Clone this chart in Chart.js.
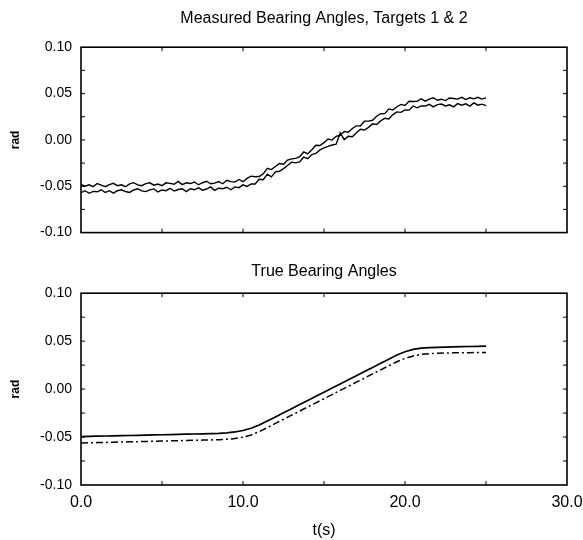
<!DOCTYPE html>
<html>
<head>
<meta charset="utf-8">
<script src="https://cdn.jsdelivr.net/npm/chart.js@4.4.0/dist/chart.umd.min.js"></script>
<style>
  body { margin: 0; background: #fff; }
  canvas { position: absolute; left: 0; }
  #measuredChart { top: 0; }
  #trueChart { top: 250px; }
</style>
</head>
<body>
<canvas id="measuredChart" width="583" height="250"></canvas>
<canvas id="trueChart" width="583" height="290"></canvas>
<script>
// sample times (s)
const tMeas = [0,0.25,0.5,0.75,1,1.25,1.5,1.75,2,2.25,2.5,2.75,3,3.25,3.5,3.75,4,4.25,4.5,4.75,
  5,5.25,5.5,5.75,6,6.25,6.5,6.75,7,7.25,7.5,7.75,8,8.25,8.5,8.75,9,9.25,9.5,9.75,
  10,10.25,10.5,10.75,11,11.25,11.5,11.75,12,12.25,12.5,12.75,13,13.25,13.5,13.75,14,14.25,14.5,14.75,
  15,15.25,15.5,15.75,16,16.25,16.5,16.75,17,17.25,17.5,17.75,18,18.25,18.5,18.75,19,19.25,19.5,19.75,
  20,20.25,20.5,20.75,21,21.25,21.5,21.75,22,22.25,22.5,22.75,23,23.25,23.5,23.75,24,24.25,24.5,24.75,25];
const tTrue = [0,0.5,1,1.5,2,2.5,3,3.5,4,4.5,5,5.5,6,6.5,7,7.5,8,8.5,9,9.5,
  10,10.5,11,11.5,12,12.5,13,13.5,14,14.5,15,15.5,16,16.5,17,17.5,18,18.5,19,19.5,
  20,20.5,21,21.5,22,22.5,23,23.5,24,24.5,25];

// measured bearing (rad)
const measured1 = [-0.0480,-0.0499,-0.0485,-0.0504,-0.0471,-0.0487,-0.0504,-0.0482,-0.0469,-0.0494,
  -0.0484,-0.0505,-0.0474,-0.0461,-0.0486,-0.0494,-0.0471,-0.0463,-0.0488,-0.0476,
  -0.0494,-0.0463,-0.0469,-0.0479,-0.0448,-0.0482,-0.0463,-0.0471,-0.0454,-0.0484,
  -0.0462,-0.0446,-0.0473,-0.0466,-0.0450,-0.0473,-0.0435,-0.0450,-0.0454,-0.0427,
  -0.0451,-0.0415,-0.0391,-0.0397,-0.0395,-0.0366,-0.0307,-0.0320,-0.0287,-0.0254,
  -0.0263,-0.0218,-0.0205,-0.0200,-0.0182,-0.0130,-0.0150,-0.0107,-0.0057,-0.0060,
  -0.0030,0.0009,-0.0002,0.0039,0.0050,0.0091,0.0082,0.0123,0.0151,0.0152,
  0.0202,0.0202,0.0212,0.0255,0.0282,0.0283,0.0334,0.0323,0.0358,0.0383,
  0.0372,0.0417,0.0415,0.0416,0.0444,0.0418,0.0439,0.0455,0.0428,0.0439,
  0.0424,0.0452,0.0447,0.0440,0.0459,0.0435,0.0454,0.0443,0.0460,0.0440,
  0.0454];
const measured2 = [-0.0570,-0.0548,-0.0576,-0.0555,-0.0560,-0.0538,-0.0567,-0.0548,-0.0574,-0.0548,
  -0.0538,-0.0557,-0.0567,-0.0540,-0.0527,-0.0550,-0.0558,-0.0539,-0.0529,-0.0562,
  -0.0540,-0.0548,-0.0522,-0.0552,-0.0535,-0.0527,-0.0558,-0.0527,-0.0538,-0.0517,
  -0.0542,-0.0530,-0.0507,-0.0544,-0.0521,-0.0527,-0.0511,-0.0538,-0.0507,-0.0515,
  -0.0485,-0.0502,-0.0474,-0.0476,-0.0424,-0.0429,-0.0370,-0.0399,-0.0345,-0.0338,
  -0.0310,-0.0276,-0.0240,-0.0248,-0.0238,-0.0186,-0.0202,-0.0158,-0.0146,-0.0108,
  -0.0085,-0.0070,-0.0055,-0.0047,0.0075,0.0003,0.0039,0.0034,0.0078,0.0115,
  0.0107,0.0135,0.0173,0.0166,0.0205,0.0234,0.0225,0.0273,0.0302,0.0297,
  0.0323,0.0321,0.0366,0.0346,0.0367,0.0365,0.0384,0.0356,0.0381,0.0387,
  0.0366,0.0379,0.0357,0.0391,0.0375,0.0389,0.0365,0.0399,0.0374,0.0386,
  0.0370];

// true bearing (rad)
const true1 = [-0.0495,-0.0493,-0.0491,-0.0489,-0.0487,-0.0486,-0.0484,-0.0482,-0.0480,-0.0478,
  -0.0476,-0.0474,-0.0472,-0.0470,-0.0468,-0.0466,-0.0464,-0.0461,-0.0456,-0.0447,
  -0.0432,-0.0408,-0.0374,-0.0333,-0.0290,-0.0247,-0.0204,-0.0161,-0.0118,-0.0075,
  -0.0032,0.0011,0.0054,0.0097,0.0140,0.0183,0.0226,0.0269,0.0312,0.0355,
  0.0390,0.0414,0.0427,0.0433,0.0436,0.0438,0.0440,0.0442,0.0444,0.0446,0.0448];
const true2 = [-0.0562,-0.0560,-0.0558,-0.0556,-0.0554,-0.0552,-0.0550,-0.0548,-0.0546,-0.0544,
  -0.0542,-0.0540,-0.0538,-0.0536,-0.0534,-0.0532,-0.0530,-0.0527,-0.0523,-0.0516,
  -0.0502,-0.0478,-0.0444,-0.0402,-0.0358,-0.0315,-0.0272,-0.0229,-0.0186,-0.0143,
  -0.0100,-0.0057,-0.0014,0.0029,0.0072,0.0115,0.0158,0.0201,0.0244,0.0285,
  0.0320,0.0346,0.0362,0.0370,0.0374,0.0376,0.0378,0.0379,0.0380,0.0381,0.0382];

const xTickMarks = [5, 10, 15, 20, 25];
const yTickMarks = [-0.075, -0.05, -0.025, 0, 0.025, 0.05, 0.075];

const FONT = "'Liberation Sans', Arial, Helvetica, sans-serif";
const pts = (xs, ys) => ys.map((v, i) => ({ x: xs[i], y: v }));

// box around the plot with small inward ticks
const frameTicks = {
  id: 'frameTicks',
  afterDatasetsDraw(chart) {
    const { ctx, chartArea: a, scales: { x, y } } = chart;
    ctx.save();
    ctx.strokeStyle = '#000';
    ctx.lineWidth = 1.6;
    ctx.strokeRect(a.left, a.top, a.right - a.left, a.bottom - a.top);
    ctx.lineWidth = 1;
    ctx.beginPath();
    yTickMarks.forEach(v => {
      const py = y.getPixelForValue(v);
      ctx.moveTo(a.left, py); ctx.lineTo(a.left + 4, py);
      ctx.moveTo(a.right, py); ctx.lineTo(a.right - 4, py);
    });
    xTickMarks.forEach(v => {
      const px = x.getPixelForValue(v);
      ctx.moveTo(px, a.top); ctx.lineTo(px, a.top + 4);
      ctx.moveTo(px, a.bottom); ctx.lineTo(px, a.bottom - 4);
    });
    ctx.stroke();
    ctx.restore();
  }
};

function yScale() {
  return {
    min: -0.1, max: 0.1,
    grid: { display: false, drawTicks: false },
    border: { display: false },
    ticks: {
      stepSize: 0.05, padding: 9, color: '#000',
      font: { family: FONT, size: 14 },
      callback: v => (Math.abs(v) < 1e-9 ? 0 : v).toFixed(2)
    },
    title: {
      display: true, text: 'rad', color: '#000',
      font: { family: FONT, size: 12, weight: 'bold' },
      padding: { top: 8, bottom: 0 }
    },
    afterFit: s => { s.width = 81; }
  };
}

function titleOpts(text, top, bottom) {
  return {
    display: true, text, color: '#000', fullSize: false,
    font: { family: FONT, size: 16, weight: 'normal' },
    padding: { top, bottom }
  };
}

const common = {
  responsive: false,
  animation: false,
  events: [],
  plugins: { legend: { display: false }, tooltip: { enabled: false } }
};

new Chart(document.getElementById('measuredChart'), {
  type: 'line',
  data: {
    datasets: [
      { label: 'Target 1', data: pts(tMeas, measured1), borderColor: '#000', borderWidth: 1.4, pointRadius: 0, tension: 0 },
      { label: 'Target 2', data: pts(tMeas, measured2), borderColor: '#000', borderWidth: 1.4, pointRadius: 0, tension: 0 }
    ]
  },
  options: {
    ...common,
    layout: { padding: { left: 0, right: 16, top: 0, bottom: 12 } },
    plugins: { ...common.plugins, title: titleOpts('Measured Bearing Angles, Targets 1 & 2', 9, 19) },
    scales: {
      x: { type: 'linear', min: 0, max: 30, display: false },
      y: yScale()
    }
  },
  plugins: [frameTicks]
});

new Chart(document.getElementById('trueChart'), {
  type: 'line',
  data: {
    datasets: [
      { label: 'Target 1', data: pts(tTrue, true1), borderColor: '#000', borderWidth: 1.7, pointRadius: 0, tension: 0 },
      { label: 'Target 2', data: pts(tTrue, true2), borderColor: '#000', borderWidth: 1.5, pointRadius: 0, tension: 0, borderDash: [7, 3, 2, 3] }
    ]
  },
  options: {
    ...common,
    layout: { padding: { left: 0, right: 16, top: 0, bottom: 0 } },
    plugins: { ...common.plugins, title: titleOpts('True Bearing Angles', 12, 12) },
    scales: {
      x: {
        type: 'linear', min: 0, max: 30,
        grid: { display: false, drawTicks: false },
        border: { display: false },
        ticks: {
          stepSize: 10, padding: 8, color: '#000', maxRotation: 0,
          font: { family: FONT, size: 16 },
          callback: v => v.toFixed(1)
        },
        title: {
          display: true, text: 't(s)', color: '#000',
          font: { family: FONT, size: 16 },
          padding: { top: 0, bottom: 0 }
        },
        afterFit: s => { s.height = 55; s.paddingLeft = 0; s.paddingRight = 0; }
      },
      y: yScale()
    }
  },
  plugins: [frameTicks]
});
</script>
</body>
</html>
